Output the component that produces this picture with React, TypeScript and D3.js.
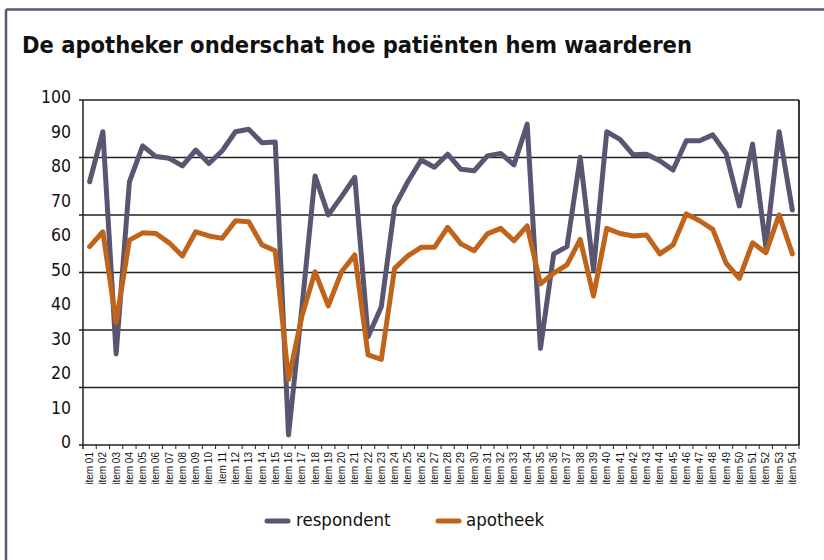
import React from "react";
import * as d3 from "d3";

const categories: string[] = Array.from({ length: 54 }, (_, i) => `item ${String(i + 1).padStart(2, "0")}`);

const respondent: number[] = [
  76.3, 90.8, 26.4, 76.3, 86.7, 83.6, 83.1, 80.9, 85.5, 81.6,
  85.3, 90.8, 91.5, 87.6, 87.8, 2.9, 39.4, 78.0, 66.7, 72.0,
  77.6, 31.4, 40.1, 69.1, 76.3, 82.6, 80.5, 84.3, 79.9, 79.5,
  83.8, 84.5, 81.2, 93.0, 28.0, 55.4, 57.5, 83.4, 50.7, 90.8,
  88.6, 84.1, 84.3, 82.4, 79.7, 88.2, 88.2, 89.9, 84.5, 69.3,
  87.2, 57.5, 90.8, 68.1,
];

const apotheek: number[] = [
  57.5, 61.8, 35.5, 59.4, 61.5, 61.3, 58.6, 54.8, 61.8, 60.6,
  59.9, 65.0, 64.7, 58.0, 56.3, 19.0, 37.2, 50.2, 40.3, 50.2,
  55.1, 26.1, 24.8, 51.2, 54.8, 57.3, 57.3, 63.1, 58.3, 56.3,
  61.2, 62.8, 59.2, 63.5, 46.7, 49.8, 52.2, 59.6, 43.2, 62.8,
  61.3, 60.6, 60.9, 55.4, 58.0, 67.0, 65.0, 62.5, 52.7, 48.3,
  58.6, 55.7, 66.7, 55.4,
];

const yTickLabels: number[] = [0, 10, 20, 30, 40, 50, 60, 70, 80, 90, 100];
const gridValues: number[] = [0, 1, 2, 3, 4, 5, 6].map((k) => (k * 100) / 6);

const series = [
  { name: "respondent", values: respondent, color: "#5a5570" },
  { name: "apotheek", values: apotheek, color: "#c0641c" },
];

const W = 824;
const H = 560;
const left = 83;
const right = 799;
const top = 100;
const bottom = 445;

export default function App() {
  const x = d3.scaleBand<string>().domain(categories).range([left, right]).padding(0);
  const y = d3.scaleLinear().domain([0, 100]).range([bottom, top]);
  const line = d3
    .line<number>()
    .x((_, i) => (x(categories[i]) as number) + x.bandwidth() / 2)
    .y((d) => y(d));

  const labelFont = "'DejaVu Sans Condensed', 'DejaVu Sans', sans-serif";

  return (
    <svg
      width={W}
      height={H}
      style={{ position: "absolute", left: 0, top: 0, background: "#fff" }}
    >
      {/* outer frame */}
      <line x1={6} y1={9.5} x2={W} y2={9.5} stroke="#5a5570" strokeWidth={2.5} />
      <line x1={6} y1={9.5} x2={6} y2={H} stroke="#5a5570" strokeWidth={2.5} />

      <text
        x={22}
        y={53}
        fontFamily={labelFont}
        fontWeight="bold"
        fontSize={23}
        textLength={670}
        lengthAdjust="spacingAndGlyphs"
        fill="#111"
      >
        De apotheker onderschat hoe patiënten hem waarderen
      </text>

      {/* gridlines */}
      {gridValues.map((g, i) => (
        <line key={i} x1={left - 4} x2={right} y1={y(g)} y2={y(g)} stroke="#222" strokeWidth={1.5} />
      ))}
      {/* plot right border */}
      <line x1={right} x2={right} y1={top} y2={bottom} stroke="#222" strokeWidth={1.8} />
      {/* y axis */}
      <line x1={left} x2={left} y1={top} y2={bottom + 4} stroke="#222" strokeWidth={1.5} />

      {yTickLabels.map((v) => (
        <text
          key={v}
          x={71}
          y={y(v) - 2}
          textAnchor="end"
          dominantBaseline="middle"
          fontFamily={labelFont}
          fontSize={17.5}
          fill="#111"
        >
          {v}
        </text>
      ))}

      {/* x ticks */}
      {categories.map((c, i) => (
        <line
          key={"t" + i}
          x1={(x(c) as number) + x.bandwidth()}
          x2={(x(c) as number) + x.bandwidth()}
          y1={bottom}
          y2={bottom + 4}
          stroke="#222"
          strokeWidth={1}
        />
      ))}
      {categories.map((c) => {
        const cx = (x(c) as number) + x.bandwidth() / 2;
        return (
          <text
            key={c}
            transform={`translate(${cx + 3.5},${bottom + 7}) rotate(-90)`}
            textAnchor="end"
            fontFamily="'Liberation Sans', Arial, sans-serif"
            fontSize={10}
            fill="#111"
          >
            {c}
          </text>
        );
      })}

      {series.map((s) => (
        <path
          key={s.name}
          d={line(s.values) || ""}
          fill="none"
          stroke={s.color}
          strokeWidth={5}
          strokeLinejoin="round"
          strokeLinecap="round"
        />
      ))}

      {/* legend */}
      <line x1={267} x2={288} y1={521} y2={521} stroke="#5a5570" strokeWidth={5} strokeLinecap="round" />
      <text x={296} y={521} dominantBaseline="middle" fontFamily={labelFont} fontSize={18.5} fill="#111">
        respondent
      </text>
      <line x1={438} x2={459} y1={521} y2={521} stroke="#c0641c" strokeWidth={5} strokeLinecap="round" />
      <text x={466} y={521} dominantBaseline="middle" fontFamily={labelFont} fontSize={18.5} fill="#111">
        apotheek
      </text>
    </svg>
  );
}
